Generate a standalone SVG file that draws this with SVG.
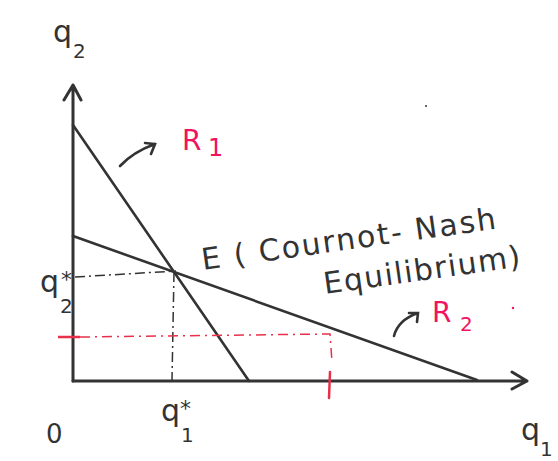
<svg xmlns="http://www.w3.org/2000/svg" width="558" height="461" viewBox="0 0 558 461">
<defs>
<style>
.ax{stroke:#333;stroke-width:3;fill:none;stroke-linecap:round;stroke-linejoin:round}
.ln{stroke:#333;stroke-width:2.6;fill:none;stroke-linecap:round}
.dk{stroke:#333;stroke-width:1.5;fill:none;stroke-dasharray:10 4 2 4}
.rd{stroke:#e8304a;stroke-width:1.5;fill:none;stroke-dasharray:10 5 2 5}
.t{font-family:"DejaVu Sans",sans-serif;fill:#333}
.r{font-family:"DejaVu Sans",sans-serif;fill:#f0135e}
</style>
</defs>
<rect width="558" height="461" fill="#fff"/>
<g id="connectors">
<path class="ax" d="M73,381 V85 M64,100 L73,85 L81,100"/>
<path class="ax" d="M73,381 H527 M512,372 L527,381 L512,389"/>
<path class="ln" d="M73,125 L249,381"/>
<path class="ln" d="M73,236 L477,380"/>
<path class="dk" d="M75,277 L176,271"/>
<path class="dk" d="M174,272 L172,380"/>
<path class="rd" d="M80,337 L330,334 L332,362"/>
<path d="M58,337 H80" stroke="#e8304a" stroke-width="2.5"/>
<path d="M330,372 L329,398" stroke="#e8304a" stroke-width="2.5" stroke-linecap="round"/>
<path class="ln" d="M120,166 Q133,152 155,144 M145,143 L155,144 L151,154"/>
<path class="ln" d="M394,336 Q398,320 418,313 M409,313 L418,313 L417,322"/>
</g>
<g id="labels">
<text class="t" x="53" y="42" font-size="30">q</text>
<text class="t" x="73" y="58" font-size="20">2</text>
<text class="t" x="40" y="292" font-size="30">q</text>
<text class="t" x="60" y="313" font-size="20">2</text>
<text class="t" x="61" y="287" font-size="22">*</text>
<text class="t" x="161" y="421" font-size="30">q</text>
<text class="t" x="181" y="442" font-size="20">1</text>
<text class="t" x="180" y="416" font-size="22">*</text>
<text class="t" x="46" y="443" font-size="26">0</text>
<text class="t" x="521" y="440" font-size="30">q</text>
<text class="t" x="540" y="456" font-size="20">1</text>
<text class="r" x="182" y="150" font-size="28">R</text>
<text class="r" x="208" y="156" font-size="24">1</text>
<text class="r" x="432" y="322" font-size="28">R</text>
<text class="r" x="460" y="331" font-size="20">2</text>
<text class="t" x="203" y="270" font-size="30" letter-spacing="2" transform="rotate(-8 203 270)">E ( Cournot- Nash</text>
<text class="t" x="325" y="294" font-size="30" letter-spacing="1.5" transform="rotate(-8 325 294)">Equilibrium)</text>
<circle cx="426" cy="106" r="1" fill="#333"/>
<circle cx="513" cy="308" r="1.2" fill="#f0135e"/>
</g>
</svg>
